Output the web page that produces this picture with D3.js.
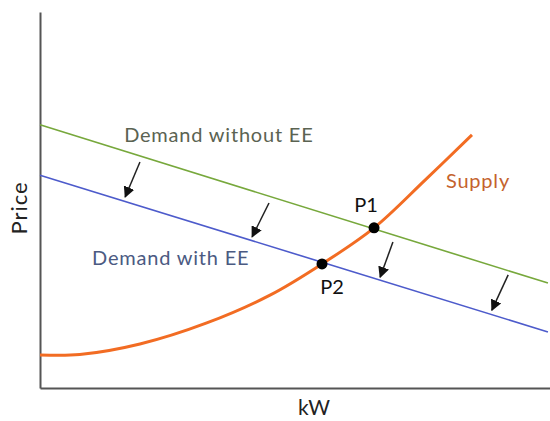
<!DOCTYPE html>
<html>
<head>
<meta charset="utf-8">
<script src="https://cdn.jsdelivr.net/npm/d3@7"></script>
<style>
  html, body { margin: 0; padding: 0; background: #fff; }
  svg { display: block; }
  text { font-family: Lato, "Open Sans", sans-serif; }
</style>
</head>
<body>
<svg id="chart" width="550" height="421"></svg>
<script>
// ---- data (abstract units 0..100 on both axes) ----
const demandWithoutEE = [[0, 70.0], [99.6, 27.9]];
const demandWithEE    = [[0, 56.6], [99.6, 14.9]];
const supply = [
  [0, 8.8], [7.8, 8.9], [19.6, 11.7], [32.7, 17.3], [45.1, 24.7],
  [55.3, 33.0], [65.5, 42.6], [75.5, 55.3], [84.7, 67.3]
];
const equilibriumPoints = [
  { name: "P1", x: 65.5, y: 42.6 },
  { name: "P2", x: 55.3, y: 33.0 }
];
const shiftArrows = [
  [[19.6, 60.1], [16.7, 50.8]],
  [[44.9, 49.2], [41.6, 40.2]],
  [[69.2, 38.8], [66.7, 29.5]],
  [[91.8, 30.1], [88.6, 20.7]]
];
const curveLabels = [
  { text: "Demand without EE", x: 16.5, y: 65.3, color: "#5b6352" },
  { text: "Demand with EE",    x: 10.2, y: 32.6, color: "#4b5a82" },
  { text: "Supply",            x: 79.6, y: 53.2, color: "#c4622d" }
];
const axisTitles = { x: "kW", y: "Price" };

// ---- scales ----
const svg = d3.select("#chart");
const x = d3.scaleLinear().domain([0, 100]).range([40, 550]);
const y = d3.scaleLinear().domain([0, 100]).range([388, 12]);

// ---- axes (plain lines, no ticks) ----
const xAxis = d3.axisBottom(x).tickValues([]).tickSizeOuter(0);
const yAxis = d3.axisLeft(y).tickValues([]).tickSizeOuter(0);
svg.append("g").attr("transform", `translate(0,${y(0)})`).call(xAxis)
  .select(".domain").attr("stroke", "#555").attr("stroke-width", 2);
svg.append("g").attr("transform", `translate(${x(0)},0)`).call(yAxis)
  .select(".domain").attr("stroke", "#555").attr("stroke-width", 2);

svg.append("text").attr("x", 314).attr("y", 415).attr("text-anchor", "middle")
  .attr("font-size", 21).attr("fill", "#222").text(axisTitles.x);
svg.append("text").attr("transform", "translate(27,208) rotate(-90)")
  .attr("text-anchor", "middle").attr("font-size", 22).attr("letter-spacing", 1)
  .attr("fill", "#222").text(axisTitles.y);

// ---- lines ----
const line = d3.line().x(d => x(d[0])).y(d => y(d[1]));
svg.append("path").datum(demandWithoutEE).attr("d", line)
  .attr("fill", "none").attr("stroke", "#77a83c").attr("stroke-width", 1.6);
svg.append("path").datum(demandWithEE).attr("d", line)
  .attr("fill", "none").attr("stroke", "#4d5bcb").attr("stroke-width", 1.6);
const smooth = d3.line().x(d => x(d[0])).y(d => y(d[1])).curve(d3.curveCatmullRom.alpha(0.5));
svg.append("path").datum(supply).attr("d", smooth)
  .attr("fill", "none").attr("stroke", "#f26c23").attr("stroke-width", 3);

// ---- arrows ----
svg.append("defs").append("marker")
  .attr("id", "ah").attr("viewBox", "0 0 10 10").attr("refX", 9).attr("refY", 5)
  .attr("markerWidth", 7.5).attr("markerHeight", 7.5).attr("markerUnits", "strokeWidth")
  .attr("orient", "auto")
  .append("path").attr("d", "M0,0 L10,5 L0,10 Z").attr("fill", "#111");
svg.append("g").selectAll("path").data(shiftArrows).join("path")
  .attr("d", line).attr("fill", "none").attr("stroke", "#222")
  .attr("stroke-width", 1.5).attr("marker-end", "url(#ah)");

// ---- points ----
svg.append("g").selectAll("circle").data(equilibriumPoints).join("circle")
  .attr("cx", d => x(d.x)).attr("cy", d => y(d.y)).attr("r", 5.5).attr("fill", "#000");
svg.append("text").attr("x", x(equilibriumPoints[0].x) - 8).attr("y", 212)
  .attr("text-anchor", "middle").attr("font-size", 20).attr("fill", "#111").text(equilibriumPoints[0].name);
svg.append("text").attr("x", x(equilibriumPoints[1].x) + 10).attr("y", 294)
  .attr("text-anchor", "middle").attr("font-size", 20).attr("fill", "#111").text(equilibriumPoints[1].name);

// ---- curve labels ----
svg.append("g").selectAll("text").data(curveLabels).join("text")
  .attr("x", d => x(d.x)).attr("y", d => y(d.y))
  .attr("font-size", 20).attr("letter-spacing", 0.8)
  .attr("fill", d => d.color).text(d => d.text);
</script>
</body>
</html>
